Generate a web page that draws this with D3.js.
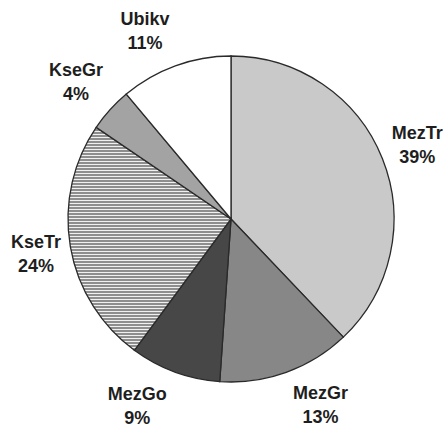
<!DOCTYPE html>
<html>
<head>
<meta charset="utf-8">
<script src="https://cdn.jsdelivr.net/npm/d3@7"></script>
<style>
    body { margin: 0; background: #fff; }
    text { font-family: "Liberation Sans", Arial, sans-serif; font-weight: bold; font-size: 18px; fill: #1e1e1e; }
</style>
</head>
<body>
<svg width="446" height="426"></svg>
<script>
// data (clockwise from 12 o'clock)
var categories = ["MezTr", "MezGr", "MezGo", "KseTr", "KseGr", "Ubikv"];
var values = [37.9, 13.2, 9.0, 24.4, 4.4, 11.1];
var pctLabels = ["39%", "13%", "9%", "24%", "4%", "11%"];
var fills = ["#c9c9c9", "#878787", "#474747", "url(#stripes)", "#a3a3a3", "#ffffff"];

var svg = d3.select("svg"),
    cx = 231, cy = 219,
    radius = 163,
    labelRadius = 205,
    g = svg.append("g").attr("transform", "translate(" + cx + "," + cy + ")");

// labels in the original were nudged by hand a bit off the centroid line
var labelNudge = [[-4, 2], [20, -7], [-23, -6], [7, 0], [-3, 0], [-16, 4]];

// horizontal stripe pattern for KseTr
var pat = svg.append("defs").append("pattern")
    .attr("id", "stripes")
    .attr("patternUnits", "userSpaceOnUse")
    .attr("width", 6).attr("height", 3);
pat.append("rect").attr("width", 6).attr("height", 3).attr("fill", "#f0f0f0");
pat.append("rect").attr("width", 6).attr("height", 2).attr("fill", "#8e8e8e");

var pie = d3.pie().sort(null).value(function (d) { return d.value; });

var data = categories.map(function (c, i) {
    return {name: c, value: values[i], pct: pctLabels[i], fill: fills[i], nudge: labelNudge[i]};
});

var arc = d3.arc().innerRadius(0).outerRadius(radius);
var labelArc = d3.arc().innerRadius(labelRadius).outerRadius(labelRadius);

var arcs = pie(data);

g.selectAll("path.slice")
    .data(arcs)
    .enter().append("path")
    .attr("class", "slice")
    .attr("d", arc)
    .attr("fill", function (d) { return d.data.fill; })
    .attr("stroke", "#2a2a2a")
    .attr("stroke-width", 1.3);

var labels = g.selectAll("g.label")
    .data(arcs)
    .enter().append("g")
    .attr("class", "label")
    .attr("transform", function (d) {
        var c = labelArc.centroid(d);
        return "translate(" + (c[0] + d.data.nudge[0]) + "," + (c[1] + d.data.nudge[1]) + ")";
    });

labels.append("text")
    .attr("text-anchor", "middle")
    .attr("y", -12)
    .attr("dy", "0.35em")
    .text(function (d) { return d.data.name; });

labels.append("text")
    .attr("text-anchor", "middle")
    .attr("y", 12)
    .attr("dy", "0.35em")
    .text(function (d) { return d.data.pct; });
</script>
</body>
</html>
